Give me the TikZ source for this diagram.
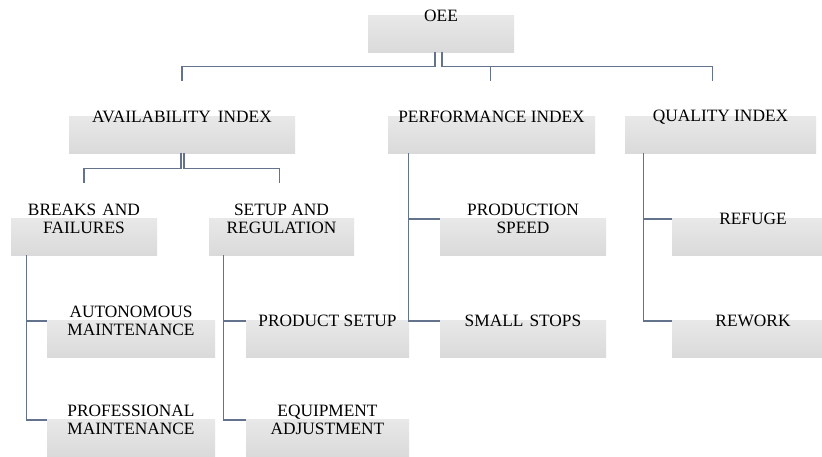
\documentclass[tikz,border=0pt]{standalone}
\usepackage{fontspec}
\setmainfont{Liberation Serif}
\usetikzlibrary{calc}
\definecolor{linec}{RGB}{100,115,140}
\definecolor{boxtop}{RGB}{246,246,246}
\definecolor{boxbot}{RGB}{218,218,218}
\begin{document}
\begin{tikzpicture}[x=0.75pt,y=-0.75pt,
  box/.style={shape=rectangle,
    path picture={\shade[top color=boxtop, bottom color=boxbot]
      ($(path picture bounding box.west)+(0,-1)$) rectangle (path picture bounding box.south east);},
    minimum height=54pt, inner sep=0pt, align=center,
    font=\fontsize{13}{13.8}\selectfont},
  conn/.style={draw=linec, line width=0.8pt}]
\fill[white] (0,0) rectangle (822,457);
\useasboundingbox (0,0) rectangle (822,457);
\clip (0,0) rectangle (822,457);
% level 0
\node[box, minimum width=109.5pt] (oee) at (441,16) {OEE};
% level 1
\node[box, minimum width=169.5pt] (avail) at (182,117) {AVAILABILITY\hspace{0.15em} INDEX};
\node[box, minimum width=155.25pt] (perf) at (491.5,117) {PERFORMANCE INDEX};
\node[box, minimum width=143.25pt] (qual) at (720.5,117) {QUALITY INDEX};
% level 2
\node[box, minimum width=109.5pt] (breaks) at (84,219) {BREAKS\hspace{0.1em} AND\\FAILURES};
\node[box, minimum width=108.75pt] (setup) at (281.5,219) {SETUP AND\\REGULATION};
\node[box, minimum width=124.5pt] (prodspeed) at (523,219) {PRODUCTION\\SPEED};
\node[box, minimum width=121.5pt] (refuge) at (753,219) {REFUGE};
% level 3
\node[box, minimum width=126pt] (auton) at (131,321) {AUTONOMOUS\\MAINTENANCE};
\node[box, minimum width=122.25pt] (prodsetup) at (327.5,321) {PRODUCT SETUP};
\node[box, minimum width=124.5pt] (small) at (523,321) {SMALL\hspace{0.1em} STOPS};
\node[box, minimum width=121.5pt] (rework) at (753,321) {REWORK};
% level 4
\node[box, minimum width=126pt] (prof) at (131,420) {PROFESSIONAL\\MAINTENANCE};
\node[box, minimum width=122.25pt] (equip) at (327.5,420) {EQUIPMENT\\ADJUSTMENT};
% connectors from OEE
\draw[conn] ($(oee.south)+(-6,0)$) |- ($(avail.north)+(0,-14)$) -- (avail.north);
\draw[conn] ($(oee.south)+(1,0)$) |- ($(qual.north)+(-8,-14)$) -- ($(qual.north)+(-8,0)$);
\draw[conn] ($(perf.north)+(-1,-14)$) -- ($(perf.north)+(-1,0)$);
% connectors from availability
\draw[conn] ($(avail.south)+(-1,0)$) |- ($(breaks.north)+(0,-14)$) -- (breaks.north);
\draw[conn] ($(avail.south)+(2,0)$) |- ($(setup.north)+(-2,-14)$) -- ($(setup.north)+(-2,0)$);
% side trees
\draw[conn] ($(breaks.south west)+(16,0)$) |- (auton.west);
\draw[conn] ($(breaks.south west)+(16,0)$) |- (prof.west);
\draw[conn] ($(setup.south west)+(15,0)$) |- (prodsetup.west);
\draw[conn] ($(setup.south west)+(15,0)$) |- (equip.west);
\draw[conn] ($(perf.south west)+(21,0)$) |- (prodspeed.west);
\draw[conn] ($(perf.south west)+(21,0)$) |- (small.west);
\draw[conn] ($(qual.south west)+(19,0)$) |- (refuge.west);
\draw[conn] ($(qual.south west)+(19,0)$) |- (rework.west);
\end{tikzpicture}
\end{document}
